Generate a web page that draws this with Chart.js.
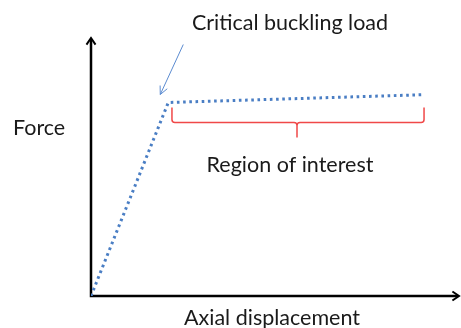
<!DOCTYPE html>
<html>
<head>
<meta charset="utf-8">
<script src="https://cdn.jsdelivr.net/npm/chart.js@4/dist/chart.umd.min.js"></script>
<style>
  html, body { margin: 0; padding: 0; background: #ffffff; }
  #wrap { width: 461px; height: 328px; position: relative; }
</style>
</head>
<body>
<div id="wrap"><canvas id="chart" width="461" height="328"></canvas></div>
<script>
// Idealised force–displacement curve of a column under axial load
const displacement = [0, 21, 90];
const force = [0, 75, 78];

// Post-buckling range bracketed under the curve (displacement units)
const regionRange = [22, 90.5];

// Labels
const xTitle = 'Axial displacement';
const yTitle = 'Force';
const kneeLabel = 'Critical buckling load';
const regionLabel = 'Region of interest';

const FONT = 'Lato, "Open Sans", sans-serif';
const TEXT = '#1a1a1a';

const points = displacement.map((x, i) => ({ x: x, y: force[i] }));

function arrowHead(ctx, tx, ty, angle, len, spread) {
  ctx.beginPath();
  ctx.moveTo(tx - len * Math.cos(angle - spread), ty - len * Math.sin(angle - spread));
  ctx.lineTo(tx, ty);
  ctx.lineTo(tx - len * Math.cos(angle + spread), ty - len * Math.sin(angle + spread));
  ctx.stroke();
}

// Axes with arrowheads, the knee callout, the brace and the text labels
const decorations = {
  id: 'decorations',
  beforeDatasetsDraw(chart) {
    const ctx = chart.ctx;
    const a = chart.chartArea;
    ctx.save();
    ctx.strokeStyle = '#000000';
    ctx.lineWidth = 2.5;
    ctx.lineCap = 'butt';
    ctx.beginPath();
    ctx.moveTo(a.left, a.top + 1);
    ctx.lineTo(a.left, a.bottom);
    ctx.lineTo(a.right - 1, a.bottom);
    ctx.stroke();
    ctx.lineWidth = 2;
    arrowHead(ctx, a.left, a.top, -Math.PI / 2, 8, 0.6);
    arrowHead(ctx, a.right, a.bottom, 0, 8, 0.6);
    ctx.restore();
  },
  afterDatasetsDraw(chart) {
    const ctx = chart.ctx;
    const xs = chart.scales.x, ys = chart.scales.y;
    ctx.save();

    // brace spanning the region of interest
    const bx0 = xs.getPixelForValue(regionRange[0]);
    const bx1 = xs.getPixelForValue(regionRange[1]);
    const top = ys.getPixelForValue(force[1]) + 5;
    const mid = top + 15;
    const tip = mid + 15;
    const cx = (bx0 + bx1) / 2 - 1;
    const r = 3;
    ctx.strokeStyle = '#f04848';
    ctx.lineWidth = 1.5;
    ctx.beginPath();
    ctx.moveTo(bx0, top);
    ctx.lineTo(bx0, mid - r);
    ctx.quadraticCurveTo(bx0, mid, bx0 + r, mid);
    ctx.lineTo(cx - r, mid);
    ctx.quadraticCurveTo(cx, mid, cx, mid + r);
    ctx.lineTo(cx, tip);
    ctx.moveTo(cx, mid + r);
    ctx.quadraticCurveTo(cx, mid, cx + r, mid);
    ctx.lineTo(bx1 - r, mid);
    ctx.quadraticCurveTo(bx1, mid, bx1, mid - r);
    ctx.lineTo(bx1, top);
    ctx.stroke();

    // callout arrow pointing at the knee of the curve
    const kx = xs.getPixelForValue(displacement[1]);
    const ky = ys.getPixelForValue(force[1]);
    const tx = kx - 8, ty = ky - 8;
    const sx = tx + 23, sy = ty - 50;
    ctx.strokeStyle = '#5b8bd0';
    ctx.lineWidth = 1;
    ctx.beginPath();
    ctx.moveTo(sx, sy);
    ctx.lineTo(tx, ty);
    ctx.stroke();
    arrowHead(ctx, tx, ty, Math.atan2(ty - sy, tx - sx), 9, 0.45);

    // labels
    ctx.fillStyle = TEXT;
    ctx.textBaseline = 'alphabetic';
    ctx.textAlign = 'center';
    ctx.font = '21.5px ' + FONT;
    ctx.fillText(kneeLabel, 290, 30);
    ctx.fillText(regionLabel, 290, 172);
    ctx.fillText(xTitle, 272, 325);
    ctx.textAlign = 'left';
    ctx.fillText(yTitle, 13, 135);
    ctx.restore();
  }
};

new Chart(document.getElementById('chart'), {
  type: 'line',
  data: {
    datasets: [{
      data: points,
      borderColor: '#4a7ec4',
      borderWidth: 3,
      borderDash: [2.6, 3.6],
      borderCapStyle: 'butt',
      pointRadius: 0,
      tension: 0,
      fill: false
    }]
  },
  options: {
    responsive: false,
    animation: false,
    events: [],
    layout: { padding: { left: 91, top: 38, right: 2, bottom: 32 } },
    plugins: { legend: { display: false }, tooltip: { enabled: false }, title: { display: false } },
    scales: {
      x: { type: 'linear', display: false, min: 0, max: 100 },
      y: { type: 'linear', display: false, min: 0, max: 100 }
    }
  },
  plugins: [decorations]
});
</script>
</body>
</html>
